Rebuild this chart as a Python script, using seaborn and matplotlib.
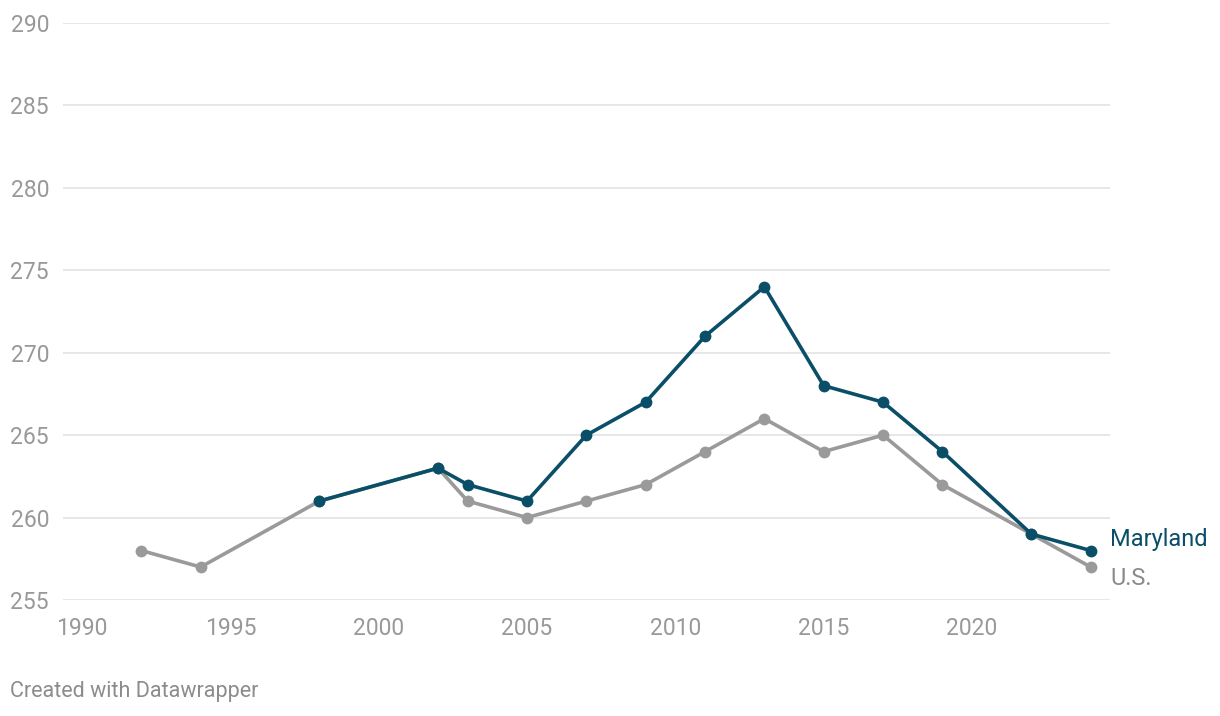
import pandas as pd
import matplotlib.pyplot as plt
import seaborn as sns

# Scores by year
us_years = [1992, 1994, 1998, 2002, 2003, 2005, 2007, 2009, 2011, 2013, 2015, 2017, 2019, 2022, 2024]
us_scores = [258, 257, 261, 263, 261, 260, 261, 262, 264, 266, 264, 265, 262, 259, 257]
md_years = [1998, 2002, 2003, 2005, 2007, 2009, 2011, 2013, 2015, 2017, 2019, 2022, 2024]
md_scores = [261, 263, 262, 261, 265, 267, 271, 274, 268, 267, 264, 259, 258]

df = pd.concat([
    pd.DataFrame({"year": us_years, "score": us_scores, "series": "U.S."}),
    pd.DataFrame({"year": md_years, "score": md_scores, "series": "Maryland"}),
])

sns.set_style("white")
plt.rcParams['font.family'] = ['Roboto', 'DejaVu Sans']

teal = "#0a4f67"
grey = "#9a9a9a"
tick_col = "#999999"

fig = plt.figure(figsize=(12.2, 7.16), dpi=100)
ax = fig.add_axes([63/1220, 1 - 600/716, (1110 - 63)/1220, (600 - 23)/716])

sns.lineplot(data=df, x="year", y="score", hue="series", palette={"U.S.": grey, "Maryland": teal},
             hue_order=["U.S.", "Maryland"], marker="o", markersize=8.5, markeredgewidth=0,
             linewidth=2.6, legend=False, ax=ax, clip_on=False)

ax.set_xlim(1989.36, 2024.65)
ax.set_ylim(255, 290)
ax.set_yticks(range(255, 291, 5))
ax.set_xticks(range(1990, 2021, 5))
ax.grid(axis="y", color="#e3e3e3", linewidth=1.2)
ax.set_axisbelow(True)
for s in ax.spines.values():
    s.set_visible(False)
ax.set_xlabel("")
ax.set_ylabel("")
ax.tick_params(axis="both", length=0, labelsize=16.5, labelcolor=tick_col)
ax.tick_params(axis="y", pad=10)
ax.tick_params(axis="x", pad=12)

ax.text(2024.65, 258.65, "Maryland", color=teal, fontsize=17, va="center", ha="left")
ax.text(2024.65, 256.3, "U.S.", color="#8a8a8a", fontsize=17, va="center", ha="left")

fig.text(10/1220, 1 - 692/716, "Created with Datawrapper", color="#8c8c8c", fontsize=15.5, va="center", ha="left")

plt.savefig("out.png", dpi=100)
plt.close()
